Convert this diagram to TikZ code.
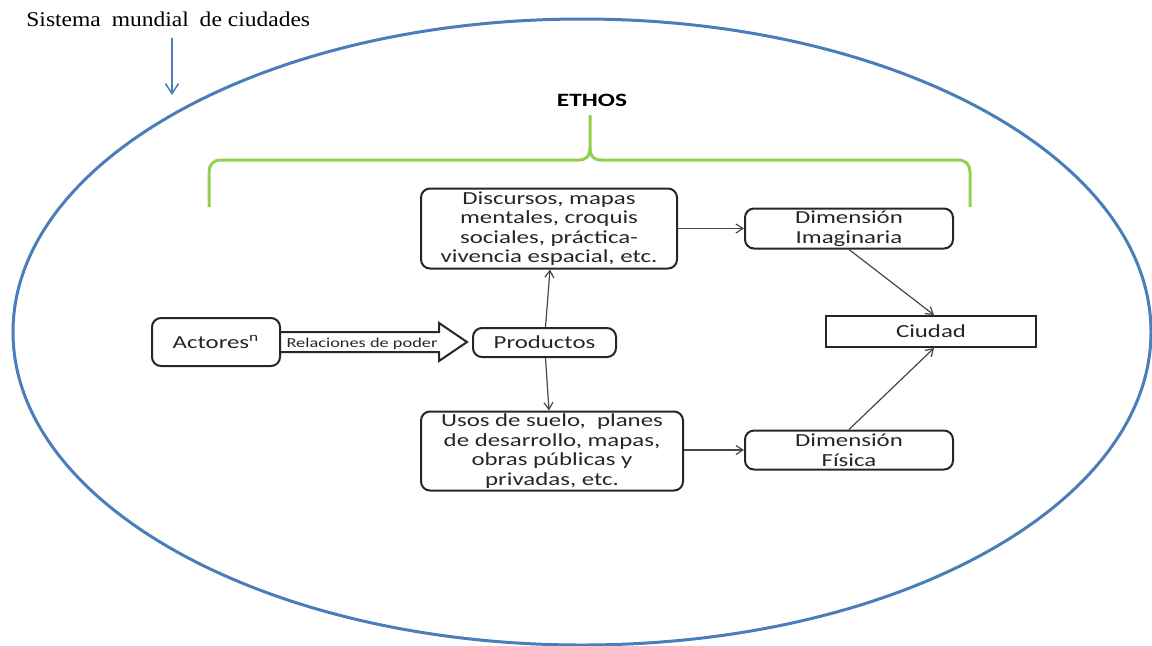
\documentclass[tikz,border=0pt]{standalone}
\usepackage{fontspec}
\setmainfont{Carlito}[FakeStretch=1.35]
\newfontfamily\titlefont{Liberation Serif}[FakeStretch=1.12]
\usetikzlibrary{arrows.meta,calc}
\definecolor{ringblue}{HTML}{4A7EBB}
\definecolor{bracegreen}{HTML}{92D050}
\definecolor{inkgray}{HTML}{262626}

\begin{document}
\begin{tikzpicture}[x=0.5pt,y=-0.5pt,
  box/.style={draw=inkgray,line width=1pt,rounded corners=4.5pt,align=center,
    inner sep=0pt,font=\fontsize{9.2}{9.75}\selectfont,text=inkgray},
  sharpbox/.style={box,rounded corners=0pt},
  link/.style={draw=inkgray!85,line width=0.6pt,
    -{Straight Barb[length=3.5pt,width=4.5pt]}},
  bigarrow/.style={draw=inkgray,line width=1pt,line join=miter},
  ring/.style={draw=ringblue,line width=1.5pt},
  brace/.style={draw=bracegreen,line width=1.5pt},
  pointer/.style={draw=ringblue,line width=0.75pt,
    -{Straight Barb[length=5pt,width=6.5pt]}}
]
\useasboundingbox (0,0) rectangle (1152,645);

% outer system boundary
\draw[ring] (582,332) ellipse [x radius=284.5pt, y radius=156.5pt];

% title and its pointer
\node[anchor=west,inner sep=0pt,font=\titlefont\fontsize{10.5}{12}\selectfont]
  (sistema) at (26,19) {Sistema\hspace{2.5pt} mundial\hspace{2.5pt} de ciudades};
\coordinate (ptrtop) at (172,38);
\coordinate (ptrtip) at (172,95);
\draw[pointer] (ptrtop) -- (ptrtip);

% ETHOS and its brace
\node[font=\fontsize{9.4}{12}\selectfont\bfseries,text=black,inner sep=0pt]
  (ethos) at (592,100) {ETHOS};
\draw[brace] (209,207) -- (209,172) .. controls (209,165) and (213,160) .. (221,160)
  -- (578,160) .. controls (586,160) and (590,157) .. (590,147) -- (590,115);
\draw[brace] (970,207) -- (970,172) .. controls (970,165) and (966,160) .. (958,160)
  -- (602,160) .. controls (594,160) and (590,157) .. (590,147);

% boxes
\node[box,minimum width=64pt,minimum height=24pt] (act) at (216,342)
  {Actores\textsuperscript{n}};
\node[box,minimum width=71.5pt,minimum height=14.5pt] (prod) at (544.5,342.5)
  {Productos};
\node[box,minimum width=128pt,minimum height=40pt] (disc) at (549,228.5)
  {Discursos, mapas\\mentales, croquis\\sociales, práctica-\\vivencia espacial, etc.};
\node[box,minimum width=131pt,minimum height=39.5pt] (usos) at (552,451)
  {Usos de suelo,\ \ planes\\de desarrollo, mapas,\\obras públicas y\\privadas, etc.};
\node[box,minimum width=104pt,minimum height=20pt] (dimi) at (849,228.5)
  {Dimensión\\Imaginaria};
\node[box,minimum width=104pt,minimum height=19.5pt] (dimf) at (849,450)
  {Dimensión\\Física};
\node[sharpbox,minimum width=105pt,minimum height=15.5pt] (ciudad) at (931,331.5)
  {Ciudad};

% hollow block arrow: power relations
\coordinate (tip) at ($(act.east -| prod.west)+(-5,0)$);
\draw[bigarrow] ($(act.east)+(0,-10)$) -- ($(tip)+(-28,-10)$) -- ($(tip)+(-28,-19)$)
  -- (tip) -- ($(tip)+(-28,19)$) -- ($(tip)+(-28,10)$) -- ($(act.east)+(0,10)$);
\node[font=\fontsize{6.8}{7}\selectfont,text=inkgray,inner sep=0pt] (rel)
  at ($(act.east)!0.5!(tip)+(-12,1.5)$) {Relaciones de poder};

% connectors
\draw[link] ($(prod.north)+(1,0)$) -- ($(disc.south)+(1,0)$);
\draw[link] ($(prod.south)+(1,0)$) -- ($(usos.north)+(-3,0)$);
\draw[link] (disc.east |- dimi.west) -- (dimi.west);
\draw[link] (usos.east |- dimf.west) -- (dimf.west);
\draw[link] (dimi.south) -- ($(ciudad.north)+(3,0)$);
\draw[link] (dimf.north) -- ($(ciudad.south)+(3,0)$);
\end{tikzpicture}
\end{document}
